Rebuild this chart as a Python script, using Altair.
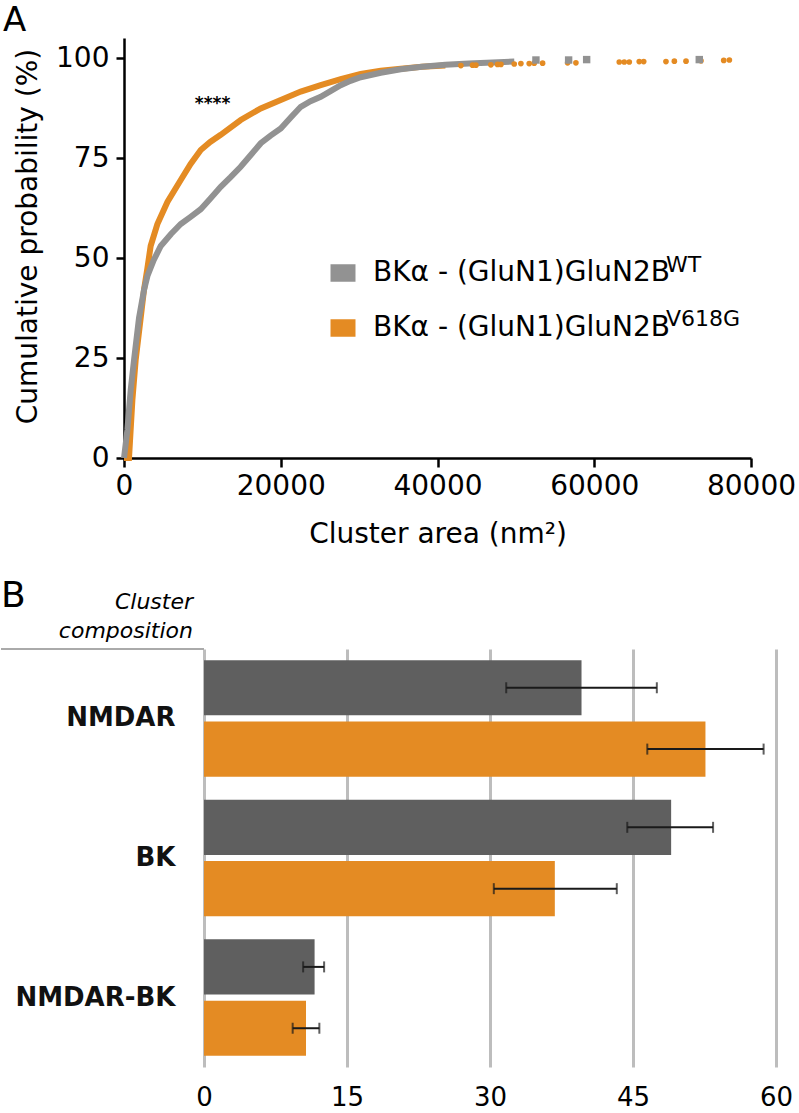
import altair as alt
import pandas as pd

FONT = "DejaVu Sans"
GRAY = "#929292"
ORANGE = "#e48b23"
DARK = "#5f5f5f"
GRID = "#bdbdbd"

WT_LABEL = "BKα - (GluN1)GluN2B"
V_LABEL = "BKα - (GluN1)GluN2B "
SERIES = [WT_LABEL, V_LABEL]
SUPERSCRIPTS = ["WT", "V618G"]

# ---- Panel A: cumulative distributions ----
wt_area = [0, 430, 855, 1280, 1915, 2550, 2990, 3800, 4690, 6000, 7240, 8500, 9790, 11000,
           12340, 13600, 14890, 16200, 17450, 18700, 20000, 21300, 22550, 23800, 25100,
           26400, 27650, 28900, 30200, 32760, 35310, 38000, 41000, 44000, 47000, 49800]
wt_prob = [0, 7, 17, 24.5, 35, 42, 45.5, 49.5, 53, 56, 58.5, 60.3, 62.2, 64.8,
           67.8, 70.2, 72.8, 75.8, 78.7, 80.6, 82.4, 85.2, 87.8, 89.2, 90.3,
           91.8, 93.2, 94.3, 95.2, 96.3, 97.2, 97.8, 98.3, 98.6, 98.9, 99.1]
v_area = [0, 640, 1070, 1490, 2130, 2550, 2990, 3400, 4260, 5540, 7240, 8500, 9790, 11000,
          12340, 14890, 17450, 20000, 22550, 25100, 27650, 30200, 32760, 35310, 38000, 41000]
v_prob = [0, 0, 14.5, 24.5, 35, 42, 47.5, 53, 58.5, 64, 69.5, 73.5, 77, 79,
          80.8, 84.5, 87.4, 89.5, 91.6, 93.2, 94.7, 96, 96.8, 97.3, 97.8, 98.1]

wt_tail_area = [52560, 56730, 59030, 73400]
wt_tail_prob = [99.5, 99.5, 99.6, 99.6]
v_tail_area = [42980, 44470, 44900, 46810, 47660, 48090, 49790, 50640, 51700, 52340, 53410,
               56600, 57660, 63190, 63830, 64470, 65740, 66310, 69150, 70220, 71710, 73620,
               76520, 77240]
v_tail_prob = [98.1, 98.2, 98.2, 98.3, 98.4, 98.4, 98.5, 98.6, 98.6, 98.7, 98.7,
               98.8, 98.8, 99.0, 99.0, 99.0, 99.1, 99.1, 99.1, 99.2, 99.2, 99.3,
               99.4, 99.5]

x_ticks_a = [0, 20000, 40000, 60000, 80000]
y_ticks_a = [0, 25, 50, 75, 100]
star_area = [11300]
star_prob = [88.5]
star_text = ["****"]

# ---- Panel B: cluster composition (%) ----
categories = ["NMDAR", "BK", "NMDAR-BK"]
wt_mean = [39.6, 49.0, 11.6]
wt_lo = [31.7, 44.4, 10.4]
wt_hi = [47.5, 53.4, 12.6]
v_mean = [52.6, 36.8, 10.7]
v_lo = [46.5, 30.4, 9.3]
v_hi = [58.7, 43.3, 12.1]
x_ticks_b = [0, 15, 30, 45, 60]

# ---------------- Panel A ----------------
df_wt = pd.DataFrame({"area": wt_area, "prob": wt_prob})
df_v = pd.DataFrame({"area": v_area, "prob": v_prob})
df_wt_tail = pd.DataFrame({"area": wt_tail_area, "prob": wt_tail_prob,
                           "series": [WT_LABEL] * len(wt_tail_area)})
df_v_tail = pd.DataFrame({"area": v_tail_area, "prob": v_tail_prob,
                          "series": [V_LABEL] * len(v_tail_area)})

xA = alt.X("area:Q", scale=alt.Scale(domain=[0, 80000], nice=False),
           axis=alt.Axis(values=x_ticks_a, format="d", title="Cluster area (nm²)",
                         grid=False, domainColor="black", domainWidth=2.5,
                         tickColor="black", tickWidth=2.5, tickSize=9,
                         labelFont=FONT, labelFontSize=28, labelColor="black",
                         labelPadding=5, labelFlush=False,
                         titleFont=FONT, titleFontSize=28, titleFontWeight=400,
                         titleColor="black", titlePadding=20))
yA = alt.Y("prob:Q", scale=alt.Scale(domain=[0, 105], nice=False),
           axis=alt.Axis(values=y_ticks_a, title="Cumulative probability (%)",
                         grid=False, domainColor="black", domainWidth=2.5,
                         tickColor="black", tickWidth=2.5, tickSize=8,
                         labelFont=FONT, labelFontSize=28, labelColor="black",
                         labelPadding=7, labelFlush=False,
                         titleFont=FONT, titleFontSize=28, titleFontWeight=400,
                         titleColor="black", titleX=-82, titleY=198))

legend_a = alt.Legend(title=None, orient="none", legendX=205, legendY=221,
                      symbolType="M-1,-0.7H1V0.7H-1Z", symbolSize=625,
                      symbolStrokeWidth=0, symbolOpacity=1,
                      labelFont=FONT, labelFontSize=28, labelColor="black",
                      labelOffset=16, rowPadding=27, labelLimit=700, padding=0)
colorA = alt.Color("series:N", scale=alt.Scale(domain=SERIES, range=[GRAY, ORANGE]),
                   legend=legend_a)

line_v = alt.Chart(df_v).mark_line(color=ORANGE, strokeWidth=6).encode(x=xA, y=yA)
line_wt = alt.Chart(df_wt).mark_line(color=GRAY, strokeWidth=6).encode(x=xA, y=yA)

tail_v = alt.Chart(df_v_tail).mark_point(filled=True, opacity=1, shape="circle", size=32).encode(
    x=xA, y=yA, color=colorA)
tail_wt = alt.Chart(df_wt_tail).mark_point(filled=True, opacity=1, shape="square", size=55).encode(
    x=xA, y=yA, color=colorA)

df_star = pd.DataFrame({"area": star_area, "prob": star_prob, "t": star_text})
stars = alt.Chart(df_star).mark_text(font=FONT, fontSize=17, fontWeight=700,
                                     color="black", baseline="middle").encode(
    x=xA, y=yA, text="t:N")

# superscripts of the legend labels
sup_wt = alt.Chart(pd.DataFrame({"t": [SUPERSCRIPTS[0]]})).mark_text(
    font=FONT, fontSize=22, color="black", align="left", baseline="alphabetic"
).encode(x=alt.value(542), y=alt.value(234), text="t:N")
sup_v = alt.Chart(pd.DataFrame({"t": [SUPERSCRIPTS[1]]})).mark_text(
    font=FONT, fontSize=22, color="black", align="left", baseline="alphabetic"
).encode(x=alt.value(542), y=alt.value(288), text="t:N")

letter_a = alt.Chart(pd.DataFrame({"t": ["A"]})).mark_text(
    font=FONT, fontSize=34, fontWeight=400, color="black", align="left", baseline="top"
).encode(x=alt.value(-121), y=alt.value(-34), text="t:N")

panel_a = alt.layer(line_v, line_wt, tail_v, tail_wt, stars, sup_wt, sup_v, letter_a).properties(
    width=627, height=420)

# ---------------- Panel B ----------------
df_bar = pd.DataFrame({
    "cat": categories * 2,
    "series": [WT_LABEL] * 3 + [V_LABEL] * 3,
    "mean": wt_mean + v_mean,
    "lo": wt_lo + v_lo,
    "hi": wt_hi + v_hi,
})

scale_xb = alt.Scale(domain=[0, 60], range=[80, 652], nice=False)
axis_xb = alt.Axis(values=x_ticks_b, title=None, domain=False, ticks=False, grid=True,
                   gridColor=GRID, gridWidth=3, labelFont=FONT, labelFontSize=26,
                   labelColor="black", labelPadding=17, labelFlush=False)

yB = alt.Y("cat:N", sort=categories,
           scale=alt.Scale(paddingInner=0.165, paddingOuter=0.08),
           axis=alt.Axis(title=None, offset=-80, ticks=False, domain=False, grid=False,
                         labelPadding=29, labelFont=FONT, labelFontSize=26,
                         labelFontWeight="bold", labelColor="#111111"))
yOffB = alt.YOffset("series:N", sort=SERIES, scale=alt.Scale(paddingInner=0.1, paddingOuter=0))

bars = alt.Chart(df_bar).mark_bar().encode(
    x=alt.X("mean:Q", scale=scale_xb, axis=axis_xb), y=yB, yOffset=yOffB,
    color=alt.Color("series:N", scale=alt.Scale(domain=SERIES, range=[DARK, ORANGE]),
                    legend=None),
)
err = alt.Chart(df_bar).mark_rule(color="#1a1a1a", strokeWidth=2).encode(
    x=alt.X("lo:Q", scale=scale_xb), x2="hi:Q", y=yB, yOffset=yOffB)
cap_lo = alt.Chart(df_bar).mark_tick(color="#1a1a1a", thickness=2, size=11).encode(
    x=alt.X("lo:Q", scale=scale_xb), y=yB, yOffset=yOffB)
cap_hi = alt.Chart(df_bar).mark_tick(color="#1a1a1a", thickness=2, size=11).encode(
    x=alt.X("hi:Q", scale=scale_xb), y=yB, yOffset=yOffB)

top_line = alt.Chart(pd.DataFrame({"t": [0]})).mark_rule(color="#aaaaaa", strokeWidth=2).encode(
    x=alt.value(-123), x2=alt.value(80), y=alt.value(0))

letter_b = alt.Chart(pd.DataFrame({"t": ["B"]})).mark_text(
    font=FONT, fontSize=36, fontWeight=400, color="black", align="left", baseline="top"
).encode(x=alt.value(-123), y=alt.value(-70), text="t:N")

comp_label = alt.Chart(pd.DataFrame({"t": [0]})).mark_text(
    font=FONT, fontSize=22, fontStyle="italic", fontWeight=400, color="black",
    align="right", baseline="middle", lineHeight=29
).encode(x=alt.value(69), y=alt.value(-47), text=alt.value(["Cluster", "composition"]))

panel_b = alt.layer(bars, err, cap_lo, cap_hi, top_line, letter_b, comp_label).properties(
    width=652, height=418)

chart = alt.vconcat(panel_a, panel_b, spacing=30).resolve_scale(
    color="independent").configure_view(strokeWidth=0).properties(
    padding={"left": 0, "top": 4, "right": 0, "bottom": 0})

chart.save("out.html", embed_options={"renderer": "svg", "actions": False})
